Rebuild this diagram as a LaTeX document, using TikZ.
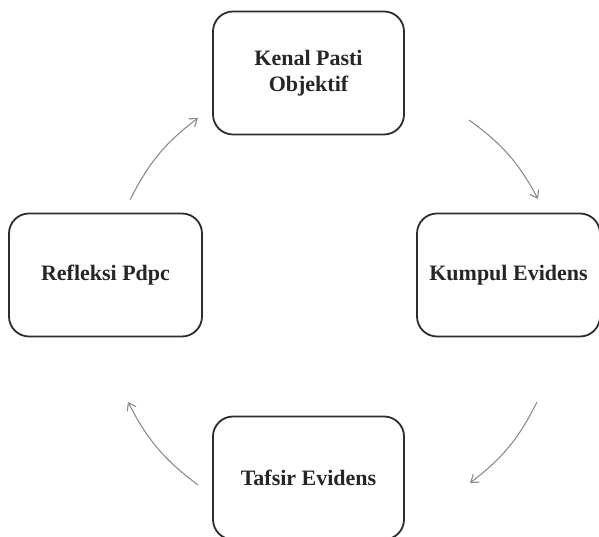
\documentclass[tikz,border=0pt]{standalone}
\usepackage{fontspec}
\setmainfont{Liberation Serif}
\usetikzlibrary{arrows.meta}
\definecolor{boxline}{RGB}{45,45,45}
\definecolor{arrowgray}{RGB}{140,140,140}
\tikzset{
  stagebox/.style={draw=boxline, line width=1.8pt, rounded corners=20pt, fill=white,
    minimum width=#1, minimum height=123pt, align=center, inner sep=0pt,
    font=\fontsize{22}{26}\selectfont\bfseries, text=black!85},
  cyclearrow/.style={draw=arrowgray, line width=1.1pt,
    -{Straight Barb[length=7pt,width=10pt,line width=1.1pt]}, bend left=13}
}
\begin{document}
\begin{tikzpicture}[x=1pt,y=1pt]
\useasboundingbox (0,0) rectangle (599,537);
\clip (0,0) rectangle (599,537);
\node[stagebox=191pt] (top) at (308.5,464) {Kenal Pasti\\Objektif};
\node[stagebox=183pt] (right) at (508.5,262) {Kumpul Evidens};
\node[stagebox=193pt] (left) at (105.5,262) {Refleksi Pdpc};
\node[stagebox=191pt] (bottom) at (308.5,59) {Tafsir Evidens};
\coordinate (a1s) at (469,417);
\coordinate (a1e) at (538,338);
\coordinate (a2s) at (537,135);
\coordinate (a2e) at (470,54);
\coordinate (a3s) at (198,52);
\coordinate (a3e) at (128,135);
\coordinate (a4s) at (130,337);
\coordinate (a4e) at (198,419);
\draw[cyclearrow] (a1s) to (a1e);
\draw[cyclearrow] (a2s) to (a2e);
\draw[cyclearrow] (a3s) to (a3e);
\draw[cyclearrow] (a4s) to (a4e);
\end{tikzpicture}
\end{document}
